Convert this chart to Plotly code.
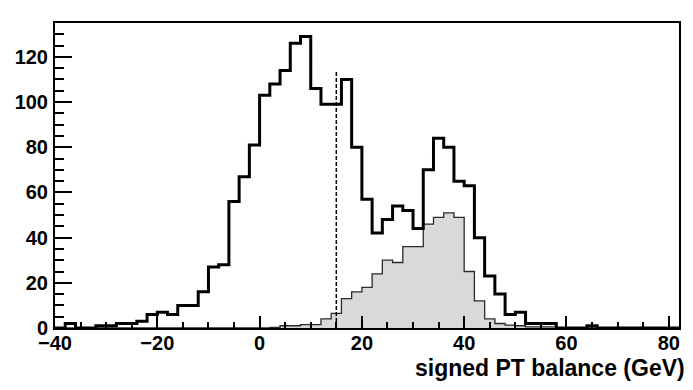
import plotly.graph_objects as go

# Histogram bins: lower edges (GeV), bin width 2
bin_width = 2
bin_low = list(range(-40, 82, bin_width))

# All events (black outline histogram)
all_counts = [
    0, 2, 0, 0, 1, 1, 2, 2, 3, 6,        # -40 .. -22
    7, 6, 10, 10, 16, 27, 28, 56, 67, 81,  # -20 .. -2
    103, 108, 114, 126, 129, 106, 99, 99, 110, 80,  # 0 .. 18
    57, 42, 48, 54, 52, 44, 70, 84, 80, 65,  # 20 .. 38
    63, 40, 23, 15, 6, 7, 2, 2, 2, 0,      # 40 .. 58
    0, 0, 1, 0, 0, 0, 0, 0, 0, 0,          # 60 .. 78
    0,                                     # 80
]

# Selected / signal component (grey filled histogram)
sel_counts = [
    0, 0, 0, 0, 0, 0, 0, 0, 0, 0,
    0, 0, 0, 0, 0, 0, 0, 0, 0, 0,
    0, 0.3, 1, 1, 1.5, 1.5, 4, 6.5, 13, 16,
    18, 24, 30, 29, 36, 36, 46, 49, 51, 49,
    25, 12, 4, 2, 1.3, 1, 0.5, 0.5, 0.5, 0,
    0, 0, 0, 0, 0, 0, 0, 0, 0, 0,
    0,
]

cut_value = 15
cut_height = 114

x_tick_vals = [-40, -20, 0, 20, 40, 60, 80]
y_tick_vals = [0, 20, 40, 60, 80, 100, 120]
x_title = "signed PT balance (GeV)"


def step_xy(counts):
    edges = bin_low + [bin_low[-1] + bin_width]
    xs = [edges[0]] + edges
    ys = [0] + list(counts) + [0]
    return xs, ys


fig = go.Figure()

sx, sy = step_xy(sel_counts)
fig.add_trace(go.Scatter(
    x=sx, y=sy, mode="lines", line_shape="hv",
    line=dict(color="#2a2a2a", width=1.3),
    fill="tozeroy", fillcolor="#d9d9d9",
    showlegend=False, hoverinfo="skip",
))

ax, ay = step_xy(all_counts)
fig.add_trace(go.Scatter(
    x=ax, y=ay, mode="lines", line_shape="hv",
    line=dict(color="black", width=3),
    showlegend=False, hoverinfo="skip",
))

fig.add_shape(type="line", x0=cut_value, x1=cut_value, y0=0, y1=cut_height,
              xref="x", yref="y",
              line=dict(color="black", width=1.5, dash="4px,2px"))

tick_font = dict(family="Liberation Sans, Arial, sans-serif", size=20,
                 color="black", weight="bold")

fig.update_xaxes(
    range=[-40, 82], tickmode="array", tickvals=x_tick_vals,
    ticks="inside", ticklen=12, tickwidth=1.5, tickcolor="black",
    showline=True, linecolor="black", linewidth=2, mirror=True,
    showgrid=False, zeroline=False, tickfont=tick_font,
    ticklabelstandoff=-4,
    minor=dict(dtick=5, tick0=0, ticks="inside", ticklen=6, tickwidth=1.5,
               tickcolor="black", showgrid=False),
)
fig.update_yaxes(
    range=[0, 135], tickmode="array", tickvals=y_tick_vals,
    ticks="inside", ticklen=17, tickwidth=1.5, tickcolor="black",
    showline=True, linecolor="black", linewidth=2, mirror=True,
    showgrid=False, zeroline=False, tickfont=tick_font,
    ticklabelstandoff=1,
    minor=dict(dtick=5, tick0=0, ticks="inside", ticklen=9, tickwidth=1.5,
               tickcolor="black", showgrid=False),
)

fig.add_annotation(
    text=x_title, xref="paper", yref="paper", x=1.0, y=-0.131,
    xanchor="right", yanchor="middle", showarrow=False, xshift=8,
    font=dict(family="Liberation Sans, Arial, sans-serif", size=23,
              color="black", weight="bold"),
)

# Page body adds an 8px margin, so the figure is sized to fit the window.
fig.update_layout(
    width=685, height=382,
    margin=dict(l=47, r=14, t=15, b=62, autoexpand=False),
    paper_bgcolor="white", plot_bgcolor="white",
)

fig.write_html("out.html")
